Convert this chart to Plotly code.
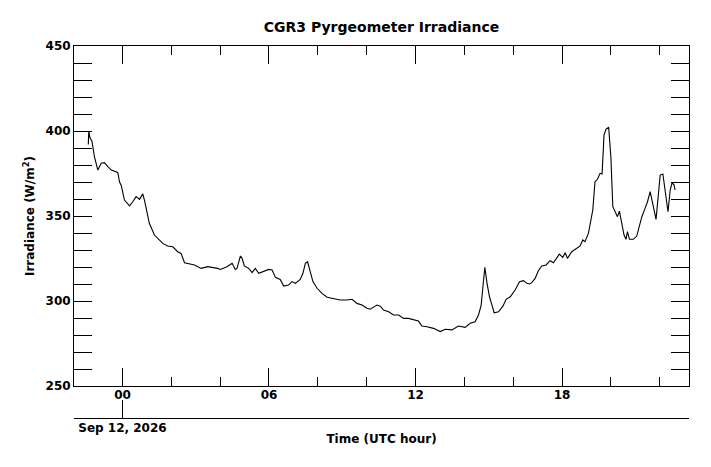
import plotly.graph_objects as go

# hours relative to 00 UTC Sep 12, 2026
hours = [
    -1.40, -1.38, -1.33, -1.25, -1.15, -1.01, -0.87, -0.74, -0.60, -0.46,
    -0.26, -0.19, -0.12, -0.05, 0.08, 0.29, 0.42, 0.56, 0.70, 0.83,
    0.90, 1.10, 1.31, 1.44, 1.65, 1.85, 2.06, 2.26, 2.40, 2.54,
    2.74, 2.95, 3.22, 3.49, 3.90, 4.01, 4.28, 4.49, 4.62, 4.69,
    4.83, 4.90, 4.99, 5.17, 5.31, 5.44, 5.58, 5.78, 5.99, 6.13,
    6.26, 6.46, 6.60, 6.80, 6.94, 7.08, 7.28, 7.39, 7.49, 7.58,
    7.69, 7.80, 7.97, 8.17, 8.38, 8.65, 8.92, 9.19, 9.40, 9.60,
    9.81, 10.01, 10.15, 10.35, 10.42, 10.56, 10.69, 10.90, 11.10, 11.31,
    11.51, 11.71, 11.92, 12.12, 12.26, 12.47, 12.74, 13.01, 13.22, 13.49,
    13.76, 14.03, 14.24, 14.44, 14.58, 14.69, 14.76, 14.84, 14.93, 15.03,
    15.13, 15.22, 15.40, 15.58, 15.71, 15.88, 16.08, 16.26, 16.42, 16.56,
    16.67, 16.76, 16.90, 17.03, 17.17, 17.35, 17.51, 17.65, 17.89, 18.03,
    18.13, 18.22, 18.40, 18.60, 18.74, 18.85, 18.94, 19.08, 19.18, 19.26,
    19.35, 19.45, 19.56, 19.64, 19.72, 19.80, 19.91, 20.00, 20.08, 20.17,
    20.27, 20.35, 20.45, 20.54, 20.62, 20.68, 20.76, 20.92, 21.06, 21.17,
    21.27, 21.40, 21.50, 21.61, 21.72, 21.85, 21.95, 22.02, 22.13, 22.23,
    22.34, 22.43, 22.51, 22.59, 22.63,
]

irradiance = [
    392.0, 400.0, 396.0, 394.0, 385.0, 377.0, 381.0, 381.4, 379.0, 377.0,
    376.0, 375.5, 370.0, 368.0, 359.4, 356.0, 358.4, 361.4, 359.8, 363.0,
    359.4, 345.7, 338.8, 336.9, 333.9, 332.4, 331.9, 329.0, 328.0, 322.5,
    321.8, 321.2, 319.2, 320.2, 319.2, 318.6, 320.2, 322.2, 318.6, 319.2,
    326.5, 325.1, 320.6, 319.2, 316.7, 319.2, 316.3, 317.3, 318.6, 318.2,
    313.9, 312.7, 308.8, 309.4, 311.4, 310.4, 312.7, 316.3, 322.2, 323.1,
    316.3, 311.4, 307.5, 304.5, 302.2, 301.6, 300.6, 300.6, 301.0, 298.6,
    297.6, 295.7, 295.2, 297.0, 297.6, 297.0, 294.7, 293.7, 291.8, 291.8,
    289.8, 289.8, 288.8, 288.2, 285.3, 284.9, 283.9, 282.0, 283.4, 283.0,
    285.3, 284.5, 286.9, 287.8, 291.8, 297.6, 308.4, 319.8, 310.4, 302.5,
    297.6, 293.1, 293.7, 297.0, 301.0, 302.5, 306.5, 311.4, 312.0, 310.4,
    310.0, 310.8, 313.3, 317.8, 320.6, 321.2, 323.7, 322.5, 327.6, 325.7,
    328.4, 325.1, 329.0, 331.0, 332.4, 335.9, 334.9, 339.8, 346.7, 353.5,
    370.2, 371.6, 375.1, 374.7, 397.6, 401.0, 402.2, 384.9, 355.5, 352.5,
    349.6, 352.9, 345.7, 338.8, 336.3, 340.8, 336.3, 336.3, 338.2, 343.7,
    349.6, 354.5, 358.4, 364.3, 357.5, 348.0, 363.3, 374.1, 374.7, 365.3,
    352.5, 365.3, 369.6, 368.2, 365.3,
]

hour_ticks = [0, 6, 12, 18]
hour_labels = ["00", "06", "12", "18"]
date_label = "Sep 12, 2026"

x_range = [-1.985, 23.2]
font = dict(family="DejaVu Sans", size=12, color="black", weight="bold")

fig = go.Figure()
fig.add_trace(go.Scatter(
    x=hours,
    y=irradiance,
    mode="lines",
    line=dict(color="black", width=1.1),
    showlegend=False,
))
# invisible trace so the date axis gets drawn
fig.add_trace(go.Scatter(x=[0], y=[300], xaxis="x2", mode="markers",
                         marker=dict(opacity=0), showlegend=False, hoverinfo="skip"))

# page body adds ~8px offset, margins compensate for it
fig.update_layout(
    width=711,
    height=467,
    margin=dict(l=66, r=30, t=38, b=57),
    paper_bgcolor="white",
    plot_bgcolor="white",
    font=font,
    title=dict(text="CGR3 Pyrgeometer Irradiance", x=0.5, xref="paper",
               y=1 - 18.7 / 467, yanchor="middle",
               font=dict(family="DejaVu Sans", size=14, color="black", weight="bold")),
    xaxis=dict(
        range=x_range,
        anchor="y",
        tickvals=hour_ticks,
        ticktext=hour_labels,
        ticks="inside",
        ticklen=18,
        tickwidth=1,
        tickcolor="black",
        showline=True,
        linecolor="black",
        linewidth=1,
        mirror="allticks",
        showgrid=False,
        zeroline=False,
        tickfont=font,
        ticklabelstandoff=-2,
        minor=dict(ticks="inside", ticklen=9, tickcolor="black", tick0=0, dtick=2, showgrid=False),
    ),
    xaxis2=dict(
        range=x_range,
        overlaying="x",
        anchor="free",
        position=0,
        side="bottom",
        tickvals=[0],
        ticktext=[date_label],
        ticks="inside",
        ticklen=18,
        tickcolor="black",
        showline=True,
        linecolor="black",
        linewidth=1,
        showgrid=False,
        zeroline=False,
        tickfont=font,
        ticklabelstandoff=-1,
        title=dict(text="Time (UTC hour)", font=font, standoff=0),
    ),
    yaxis=dict(
        range=[250, 450],
        domain=[0.086, 1],
        tick0=250,
        dtick=50,
        ticks="inside",
        ticklen=18,
        tickcolor="black",
        showline=True,
        linecolor="black",
        linewidth=1,
        mirror="allticks",
        showgrid=False,
        zeroline=False,
        tickfont=font,
        title=dict(text="Irradiance (W/m<sup>2</sup>)", font=font, standoff=8),
        minor=dict(ticks="inside", ticklen=9, tickcolor="black", dtick=10, showgrid=False),
    ),
)

fig.write_html("out.html")
